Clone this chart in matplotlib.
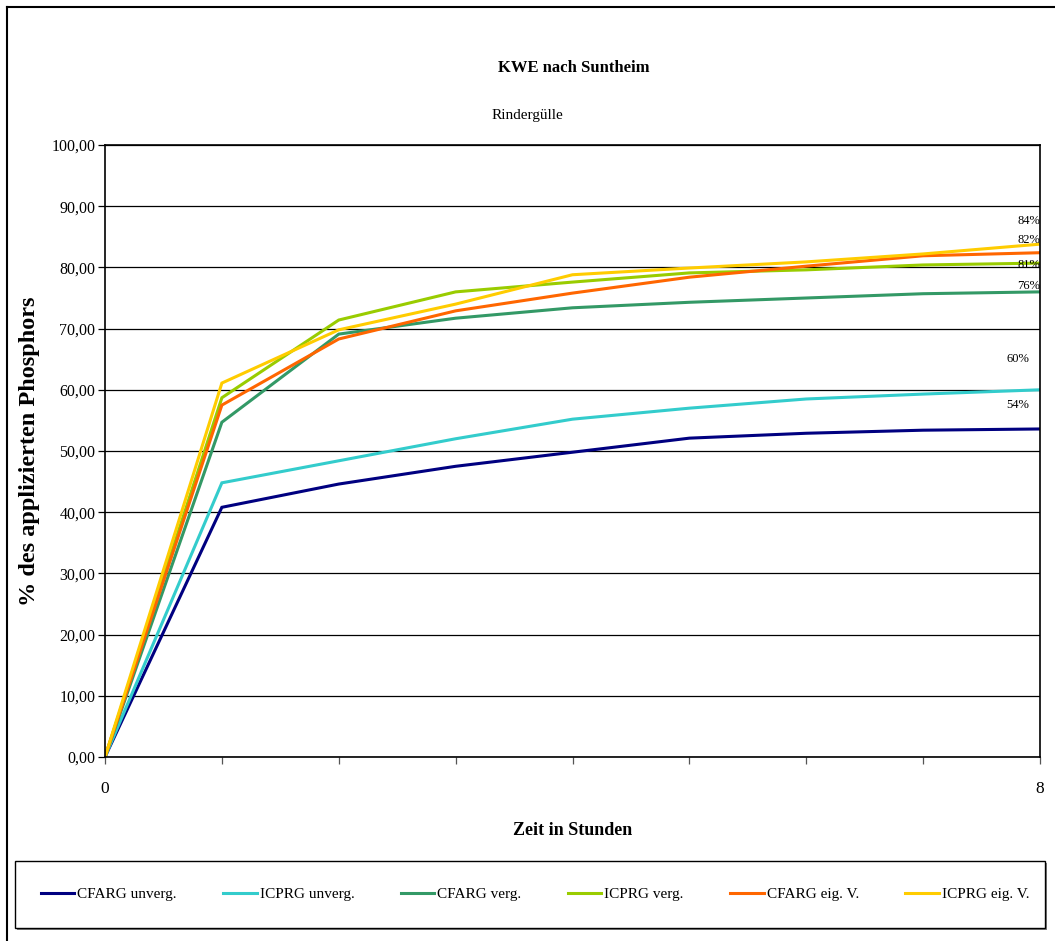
import numpy as np
import matplotlib
matplotlib.use("Agg")
import matplotlib.pyplot as plt
from matplotlib.lines import Line2D
from matplotlib.patches import Rectangle

plt.rcParams['font.family'] = ['Liberation Serif', 'DejaVu Serif']

# Freisetzung von Phosphor aus Rindergülle, Stundenwerte 0..8
stunden = np.arange(9)
serien = ["CFARG unverg.", "ICPRG unverg.", "CFARG verg.",
          "ICPRG verg.", "CFARG eig. V.", "ICPRG eig. V."]
cfarg_unverg = [0.0, 40.8, 44.6, 47.5, 49.8, 52.1, 52.9, 53.4, 53.6]
icprg_unverg = [0.0, 44.8, 48.4, 52.0, 55.2, 57.0, 58.5, 59.3, 60.0]
cfarg_verg = [0.0, 54.7, 69.1, 71.7, 73.4, 74.3, 75.0, 75.7, 76.0]
icprg_verg = [0.0, 58.7, 71.4, 76.0, 77.6, 79.1, 79.6, 80.4, 80.7]
cfarg_eig = [0.0, 57.5, 68.3, 72.9, 75.8, 78.4, 80.2, 81.9, 82.4]
icprg_eig = [0.0, 61.1, 69.8, 74.0, 78.8, 79.9, 80.9, 82.2, 83.8]
werte = [cfarg_unverg, icprg_unverg, cfarg_verg, icprg_verg, cfarg_eig, icprg_eig]

farben = ["#000080", "#33CCCC", "#339966", "#99CC00", "#FF6600", "#FFCC00"]
# Versatz der Endwert-Beschriftungen (Punkte)
label_dx = [-8, -8, 0, 0, 0, 0]
label_dy = [17, 22, 4, -1, 9, 17]

W, H = 1055, 941
fig = plt.figure(figsize=(W / 100, H / 100), dpi=100)

# Rahmen um das Diagramm
fig.add_artist(Line2D([7 / W, 7 / W], [0, 1 - 7 / H], color="black", lw=1.5))
fig.add_artist(Line2D([7 / W, 1], [1 - 7 / H, 1 - 7 / H], color="black", lw=1.5))

ax = fig.add_axes([105 / W, 1 - 757 / H, 935 / W, 612 / H])

for y, c, name in zip(werte, farben, serien):
    ax.plot(stunden, y, color=c, lw=2.2, label=name, solid_joinstyle="miter")

for y, dx, dy in zip(werte, label_dx, label_dy):
    ax.annotate(f"{round(y[-1])}%", xy=(stunden[-1], y[-1]), xytext=(dx, dy),
                textcoords="offset points", ha="right", va="center", fontsize=9)

ax.set_xlim(0, 8)
ax.set_ylim(0, 100)
ax.set_yticks(np.arange(0, 101, 10))
ax.set_yticklabels([f"{v:.2f}".replace(".", ",") for v in np.arange(0, 101, 10)], fontsize=11.5)
ax.set_xticks(stunden)
ax.set_xticklabels(["0", "", "", "", "", "", "", "", "8"], fontsize=12.5)
ax.yaxis.grid(True, color="black", lw=0.9)
ax.set_axisbelow(True)
ax.tick_params(axis="y", direction="out", length=5, width=0.9, pad=2)
ax.tick_params(axis="x", direction="out", length=5, width=0.9, pad=12, color="#555555")
for s in ax.spines.values():
    s.set_linewidth(1.2)

ax.set_ylabel("% des applizierten Phosphors", fontsize=17.5, fontweight="bold")
ax.yaxis.set_label_coords(-65 / 935, 0.5)
ax.set_xlabel("Zeit in Stunden", fontsize=13, fontweight="bold", labelpad=18)

fig.text(574 / W, 1 - 68 / H, "KWE nach Suntheim", ha="center", va="center",
         fontsize=12, fontweight="bold")
fig.text(527 / W, 1 - 115 / H, "Rindergülle", ha="center", va="center", fontsize=11)

# Legendenkasten mit Schatten
lx0, ly0, lw, lh = 15 / W, 1 - 928 / H, 1030 / W, 67 / H
fig.add_artist(Rectangle((lx0 + 2 / W, ly0 - 2 / H), lw, lh, transform=fig.transFigure,
                         facecolor="#808080", edgecolor="none"))
fig.add_artist(Rectangle((lx0, ly0), lw, lh, transform=fig.transFigure,
                         facecolor="white", edgecolor="black", lw=1.0))
handles, labels = ax.get_legend_handles_labels()
fig.legend(handles, labels, loc="center", ncol=6, frameon=False,
           bbox_to_anchor=(lx0 + 12 / W, ly0, lw - 14 / W, lh), mode="expand", fontsize=11,
           handlelength=2.2, handletextpad=0.2, columnspacing=1.0)

fig.savefig("out.png", dpi=100)
